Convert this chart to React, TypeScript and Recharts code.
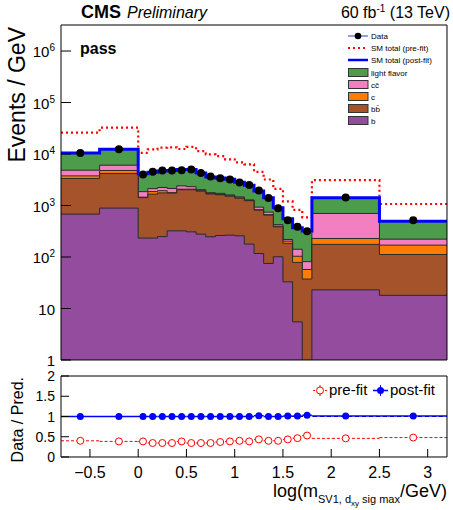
import React from 'react';
import { ComposedChart, Area, Line, Scatter, XAxis, YAxis, ErrorBar, ReferenceLine } from 'recharts';

const FONT = '"Liberation Sans", Arial, Helvetica, sans-serif';

// ---------- data ----------
const binEdges = [-0.8, -0.4, 0, 0.1, 0.2, 0.3, 0.4, 0.5, 0.6, 0.7, 0.8, 0.9, 1.0, 1.1, 1.2, 1.3, 1.4, 1.5, 1.6, 1.7, 1.8, 2.5, 3.2];

const bValues = [680, 890, 233, 233, 249, 322, 322, 308, 278, 247, 262, 266, 258, 178, 117, 75, 101, 33, 5.5, 0.3, 23, 18];
const bbbarValues = [2670, 3300, 1190, 1430, 1510, 1415, 1707, 1721, 1620, 1428, 1355, 1252, 1131, 1064, 695, 575, 284, 151, 73, 37, 153, 94];
const cValues = [410, 600, 30, 200, 180, 38, 46, 46, 43, 23, 21, 20, 12, 11, 18, 14, 12, 19, 25, 20, 53, 58];
const ccbarValues = [1090, 1280, 405, 265, 300, 367, 330, 246, 88, 77, 83, 65, 71, 29, 99, 79, 28, 16, 38, 24, 472, 52];
const lightValues = [5650, 6320, 2290, 2310, 2460, 2644, 2598, 2682, 2270, 1822, 1717, 1642, 1366, 1201, 994, 677, 483, 337, 230, 237, 719, 275];
const dataValues = [10500, 12400, 4000, 4500, 4800, 4800, 4850, 5000, 4300, 3650, 3400, 3200, 2800, 2500, 1950, 1400, 880, 520, 385, 318, 1430, 520];
const prefitValues = [26000, 32500, 10500, 12300, 13300, 13500, 12500, 13700, 11400, 9800, 9100, 7900, 6900, 6300, 4500, 3200, 2100, 1200, 820, 590, 3100, 1070];

const prefitRatio = [0.40, 0.385, 0.385, 0.345, 0.345, 0.345, 0.385, 0.345, 0.345, 0.345, 0.37, 0.385, 0.40, 0.385, 0.435, 0.40, 0.40, 0.435, 0.465, 0.53, 0.46, 0.48];
const postfitRatio = [1.0, 1.0, 1.0, 1.0, 1.0, 1.0, 1.0, 1.0, 1.0, 1.0, 1.0, 1.0, 1.0, 1.0, 1.02, 1.0, 1.0, 1.01, 1.01, 1.03, 1.01, 1.01];

const seriesNames = ['light flavor', 'cc\u0304', 'c', 'bb\u0304', 'b'];
const seriesColors = ['#4c9c4c', '#f47fc0', '#ff7c00', '#a5532a', '#944c9f'];
const lineNames = ['Data', 'SM total (pre-fit)', 'SM total (post-fit)'];
const ratioNames = ['pre-fit', 'post-fit'];

const xMajorTicks = [-0.5, 0, 0.5, 1, 1.5, 2, 2.5, 3];
const xTickLabels = ['\u22120.5', '0', '0.5', '1', '1.5', '2', '2.5', '3'];
const xMinorTicks = [-0.7, -0.6, -0.4, -0.3, -0.2, -0.1, 0.1, 0.2, 0.3, 0.4, 0.6, 0.7, 0.8, 0.9, 1.1, 1.2, 1.3, 1.4, 1.6, 1.7, 1.8, 1.9, 2.1, 2.2, 2.3, 2.4, 2.6, 2.7, 2.8, 2.9, 3.1];

const mainYTicks = [1, 10, 100, 1000, 10000, 100000, 1000000];
const mainYTickBase = ['1', '10', '10', '10', '10', '10', '10'];
const mainYTickExp = ['', '', '2', '3', '4', '5', '6'];
const logMinorMultipliers = [2, 3, 4, 5, 6, 7, 8, 9];
const logDecades = [1, 10, 100, 1000, 10000, 100000, 1000000];
const mainYMinorTicks = logDecades.flatMap((d) => logMinorMultipliers.map((m) => m * d)).filter((v) => v < 3.2e6);

const ratioYTicks = [0, 0.5, 1, 1.5, 2];
const ratioYTickLabels = ['0', '0.5', '1', '1.5', '2'];
const ratioYMinorTicks = [0.1, 0.2, 0.3, 0.4, 0.6, 0.7, 0.8, 0.9, 1.1, 1.2, 1.3, 1.4, 1.6, 1.7, 1.8, 1.9];

// ---------- derived tables ----------
const nBins = dataValues.length;
const histRows = binEdges.map((edge, i) => {
  const j = Math.min(i, nBins - 1);
  const b = bValues[j];
  const bb = b + bbbarValues[j];
  const c = bb + cValues[j];
  const cc = c + ccbarValues[j];
  const total = cc + lightValues[j];
  return { x: edge, b, bb, c, cc, total, prefit: prefitValues[j] };
});
const centers = dataValues.map((_, j) => (binEdges[j] + binEdges[j + 1]) / 2);
const halfWidths = dataValues.map((_, j) => (binEdges[j + 1] - binEdges[j]) / 2);
const dataPoints = dataValues.map((v, j) => ({ x: centers[j], y: v }));
const prefitRatioPoints = prefitRatio.map((r, j) => ({ x: centers[j], y: r, ex: halfWidths[j] }));
const postfitRatioPoints = postfitRatio.map((r, j) => ({ x: centers[j], y: r, ex: halfWidths[j] }));

const X_DOMAIN: [number, number] = [-0.8, 3.2];
const Y_DOMAIN: [number, number] = [1, 3.2e6];
const THIN = 0.001;

// ---------- ticks ----------
function nearestIndex(arr: number[], v: number) {
  let best = 0;
  for (let i = 1; i < arr.length; i++) if (Math.abs(arr[i] - v) < Math.abs(arr[best] - v)) best = i;
  return best;
}

function MainYTick(props: any) {
  const { x, y, payload } = props;
  const i = nearestIndex(mainYTicks.map((t) => Math.log10(t)), Math.log10(payload.value));
  return (
    <text x={x} y={y + 6} textAnchor="end" fontSize={15} fontFamily={FONT} fill="#000">
      {mainYTickBase[i]}
      {mainYTickExp[i] ? <tspan dy={-6} fontSize={10}>{mainYTickExp[i]}</tspan> : null}
    </text>
  );
}

function RatioXTick(props: any) {
  const { x, y, payload } = props;
  const i = nearestIndex(xMajorTicks, payload.value);
  return (
    <text x={x} y={y} textAnchor="middle" fontSize={16} fontFamily={FONT} fill="#000">
      {xTickLabels[i]}
    </text>
  );
}

function RatioYTick(props: any) {
  const { x, y, payload } = props;
  const i = nearestIndex(ratioYTicks, payload.value);
  return (
    <text x={x} y={y + 5} textAnchor="end" fontSize={14} fontFamily={FONT} fill="#000">
      {ratioYTickLabels[i]}
    </text>
  );
}

const DataDot = (props: any) => <circle cx={props.cx} cy={props.cy} r={4} fill="#000" />;
const OpenRedDot = (props: any) => <circle cx={props.cx} cy={props.cy} r={3.5} fill="#fff" stroke="#ff0000" strokeWidth={1} />;
const BlueDot = (props: any) => <circle cx={props.cx} cy={props.cy} r={3.5} fill="#0000ff" />;

export default function App() {
  return (
    <div style={{ position: 'absolute', left: 0, top: 0, width: 453, height: 510, background: '#fff', fontFamily: FONT }}>
      <div style={{ position: 'absolute', left: 0, top: 0 }}>
        <ComposedChart width={453} height={370} data={histRows} margin={{ top: 25, right: 6, bottom: 10, left: 61 }}>
          <XAxis dataKey="x" type="number" domain={X_DOMAIN} allowDataOverflow ticks={xMajorTicks} interval={0} tick={false} tickSize={-10} height={THIN} stroke="#000" />
          <XAxis xAxisId="bmin" dataKey="x" type="number" domain={X_DOMAIN} allowDataOverflow ticks={xMinorTicks} interval={0} tick={false} tickSize={-5} height={THIN} axisLine={false} stroke="#000" />
          <XAxis xAxisId="tmaj" orientation="top" dataKey="x" type="number" domain={X_DOMAIN} allowDataOverflow ticks={xMajorTicks} interval={0} tick={false} tickSize={-10} height={THIN} stroke="#000" />
          <XAxis xAxisId="tmin" orientation="top" dataKey="x" type="number" domain={X_DOMAIN} allowDataOverflow ticks={xMinorTicks} interval={0} tick={false} tickSize={-5} height={THIN} axisLine={false} stroke="#000" />
          <YAxis type="number" scale="log" domain={Y_DOMAIN} allowDataOverflow ticks={mainYTicks} interval={0} tick={<MainYTick />} tickSize={-10} tickMargin={16} width={THIN} stroke="#000" />
          <YAxis yAxisId="lmin" type="number" scale="log" domain={Y_DOMAIN} allowDataOverflow ticks={mainYMinorTicks} interval={0} tick={false} tickSize={-5} width={THIN} axisLine={false} stroke="#000" />
          <YAxis yAxisId="rmaj" orientation="right" type="number" scale="log" domain={Y_DOMAIN} allowDataOverflow ticks={mainYTicks} interval={0} tick={false} tickSize={-10} width={THIN} stroke="#000" />
          <YAxis yAxisId="rmin" orientation="right" type="number" scale="log" domain={Y_DOMAIN} allowDataOverflow ticks={mainYMinorTicks} interval={0} tick={false} tickSize={-5} width={THIN} axisLine={false} stroke="#000" />

          <Area dataKey="total" name={seriesNames[0]} type="stepAfter" baseValue={1} fill={seriesColors[0]} fillOpacity={1} stroke="#2a2a2a" strokeWidth={1} isAnimationActive={false} />
          <Area dataKey="cc" name={seriesNames[1]} type="stepAfter" baseValue={1} fill={seriesColors[1]} fillOpacity={1} stroke="#2a2a2a" strokeWidth={1} isAnimationActive={false} />
          <Area dataKey="c" name={seriesNames[2]} type="stepAfter" baseValue={1} fill={seriesColors[2]} fillOpacity={1} stroke="#2a2a2a" strokeWidth={1} isAnimationActive={false} />
          <Area dataKey="bb" name={seriesNames[3]} type="stepAfter" baseValue={1} fill={seriesColors[3]} fillOpacity={1} stroke="#2a2a2a" strokeWidth={1} isAnimationActive={false} />
          <Area dataKey="b" name={seriesNames[4]} type="stepAfter" baseValue={1} fill={seriesColors[4]} fillOpacity={1} stroke="#2a2a2a" strokeWidth={1} isAnimationActive={false} />
          <Line dataKey="prefit" name={lineNames[1]} type="stepAfter" stroke="#ff0000" strokeWidth={2.2} strokeDasharray="2 3" dot={false} isAnimationActive={false} />
          <Line dataKey="total" name={lineNames[2]} type="stepAfter" stroke="#0000ff" strokeWidth={3} dot={false} isAnimationActive={false} />
          <Scatter data={dataPoints} dataKey="y" name={lineNames[0]} shape={DataDot} isAnimationActive={false} />
        </ComposedChart>
      </div>

      <div style={{ position: 'absolute', left: 0, top: 355 }}>
        <ComposedChart width={453} height={155} margin={{ top: 21, right: 6, bottom: 53, left: 61 }}>
          <XAxis dataKey="x" type="number" domain={X_DOMAIN} allowDataOverflow ticks={xMajorTicks} interval={0} tick={<RatioXTick />} tickSize={-8} tickMargin={29} height={THIN} stroke="#000" />
          <XAxis xAxisId="bmin" dataKey="x" type="number" domain={X_DOMAIN} allowDataOverflow ticks={xMinorTicks} interval={0} tick={false} tickSize={-4} height={THIN} axisLine={false} stroke="#000" />
          <XAxis xAxisId="tmaj" orientation="top" dataKey="x" type="number" domain={X_DOMAIN} allowDataOverflow ticks={xMajorTicks} interval={0} tick={false} tickSize={-8} height={THIN} stroke="#000" />
          <XAxis xAxisId="tmin" orientation="top" dataKey="x" type="number" domain={X_DOMAIN} allowDataOverflow ticks={xMinorTicks} interval={0} tick={false} tickSize={-4} height={THIN} axisLine={false} stroke="#000" />
          <YAxis type="number" domain={[0, 2]} allowDataOverflow ticks={ratioYTicks} interval={0} tick={<RatioYTick />} tickSize={-8} tickMargin={14} width={THIN} stroke="#000" />
          <YAxis yAxisId="lmin" type="number" domain={[0, 2]} allowDataOverflow ticks={ratioYMinorTicks} interval={0} tick={false} tickSize={-4} width={THIN} axisLine={false} stroke="#000" />
          <YAxis yAxisId="rmaj" orientation="right" type="number" domain={[0, 2]} allowDataOverflow ticks={ratioYTicks} interval={0} tick={false} tickSize={-8} width={THIN} stroke="#000" />
          <YAxis yAxisId="rmin" orientation="right" type="number" domain={[0, 2]} allowDataOverflow ticks={ratioYMinorTicks} interval={0} tick={false} tickSize={-4} width={THIN} axisLine={false} stroke="#000" />

          <ReferenceLine y={1} stroke="#000" strokeDasharray="4 3" strokeWidth={1} />
          <Scatter data={prefitRatioPoints} dataKey="y" name={ratioNames[0]} shape={OpenRedDot} isAnimationActive={false}>
            <ErrorBar dataKey="ex" direction="x" width={0} stroke="#ff0000" strokeWidth={1} strokeDasharray="3 2" isAnimationActive={false} />
          </Scatter>
          <Scatter data={postfitRatioPoints} dataKey="y" name={ratioNames[1]} shape={BlueDot} isAnimationActive={false}>
            <ErrorBar dataKey="ex" direction="x" width={0} stroke="#0000ff" strokeWidth={1.5} isAnimationActive={false} />
          </Scatter>
        </ComposedChart>
      </div>

      <svg width={453} height={510} style={{ position: 'absolute', left: 0, top: 0, pointerEvents: 'none' }} fontFamily={FONT}>
        {/* header */}
        <text x={81} y={18} fontSize={18} fontWeight="bold" fill="#000">CMS</text>
        <text x={127} y={18} fontSize={16} fontStyle="italic" fill="#000">Preliminary</text>
        <text x={450} y={18} fontSize={16} textAnchor="end" fill="#000">
          60 fb<tspan dy={-6} fontSize={10}>-1</tspan><tspan dy={6}> (13 TeV)</tspan>
        </text>
        <text x={80} y={54} fontSize={16} fontWeight="bold" fill="#000">pass</text>

        {/* main legend */}
        <line x1={348} x2={368} y1={36} y2={36} stroke="#2040c0" strokeWidth={1} />
        <circle cx={358} cy={36} r={3.3} fill="#000" />
        <text x={371} y={39} fontSize={8} fill="#000">{lineNames[0]}</text>
        <line x1={348} x2={368} y1={48} y2={48} stroke="#ff0000" strokeWidth={2.2} strokeDasharray="2 3" />
        <text x={371} y={51} fontSize={8} fill="#000">{lineNames[1]}</text>
        <line x1={348} x2={368} y1={60} y2={60} stroke="#0000ff" strokeWidth={2.5} />
        <text x={371} y={63} fontSize={8} fill="#000">{lineNames[2]}</text>
        {seriesNames.map((name, i) => (
          <g key={name}>
            <rect x={348.5} y={68.5 + i * 12} width={19.5} height={8} fill={seriesColors[i]} stroke="#333" strokeWidth={1} />
            <text x={371} y={75.5 + i * 12} fontSize={8} fill="#000">{name}</text>
          </g>
        ))}

        {/* y titles */}
        <text transform="rotate(-90)" x={-27} y={25} textAnchor="end" fontSize={23} fill="#000">Events / GeV</text>
        <text transform="rotate(-90)" x={-377} y={23} textAnchor="end" fontSize={16} fill="#000">Data / Pred.</text>

        {/* x title */}
        <text x={447} y={497} textAnchor="end" fontSize={18} fill="#000">
          log(m<tspan dy={6} fontSize={11}>SV1, d</tspan><tspan dy={3} fontSize={8}>xy</tspan><tspan dy={-3} fontSize={11}>{' sig max'}</tspan><tspan dy={-6} fontSize={18}>/GeV)</tspan>
        </text>

        {/* ratio legend */}
        <line x1={313} x2={327} y1={390.5} y2={390.5} stroke="#ff0000" strokeWidth={1} strokeDasharray="2 2" />
        <line x1={320} x2={320} y1={385} y2={396} stroke="#ff0000" strokeWidth={1} />
        <circle cx={320} cy={390.5} r={3.5} fill="#fff" stroke="#ff0000" strokeWidth={1} />
        <text x={329} y={395} fontSize={15} fill="#000">{ratioNames[0]}</text>
        <line x1={373} x2={388} y1={390.5} y2={390.5} stroke="#0000ff" strokeWidth={1.5} />
        <line x1={380.5} x2={380.5} y1={385} y2={396} stroke="#0000ff" strokeWidth={1} />
        <circle cx={380.5} cy={390.5} r={3.5} fill="#0000ff" />
        <text x={390} y={395} fontSize={15} fill="#000">{ratioNames[1]}</text>
      </svg>
    </div>
  );
}
